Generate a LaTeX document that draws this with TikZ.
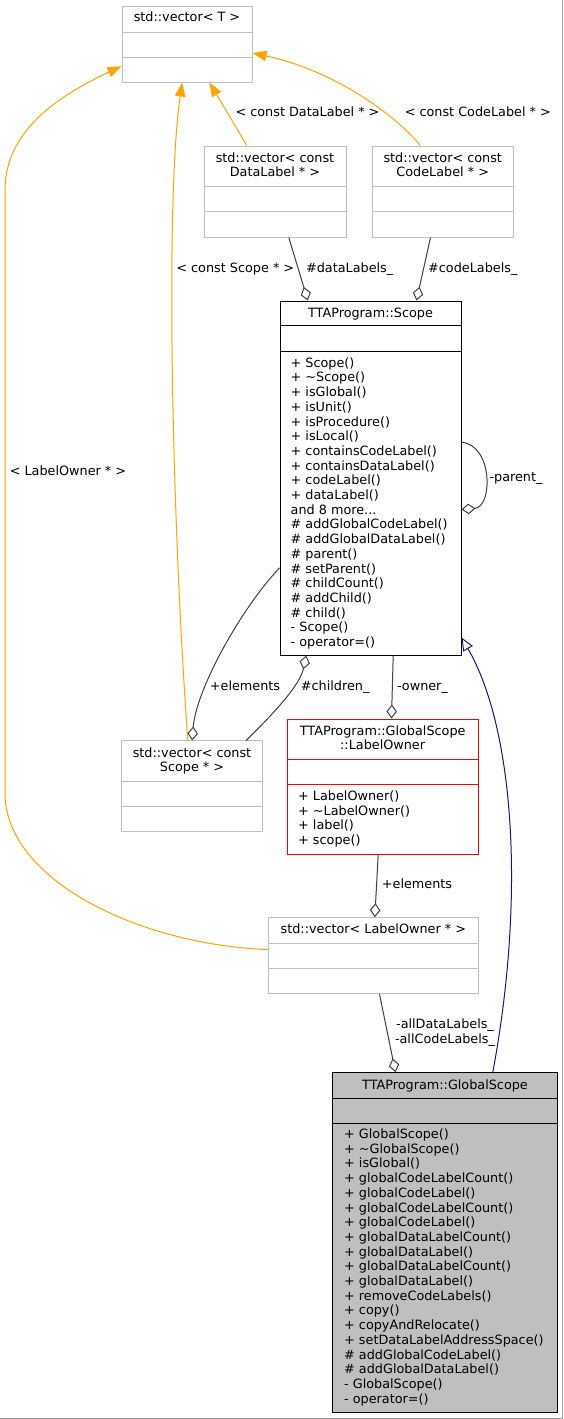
\documentclass[tikz,border=0pt]{standalone}
\usepackage{fontspec}
\setmainfont{DejaVu Sans}
\usetikzlibrary{arrows.meta,calc}

\definecolor{edgegray}{RGB}{191,191,191}
\definecolor{linkgray}{RGB}{64,64,64}
\definecolor{depcolor}{RGB}{255,165,0}
\definecolor{basecolor}{RGB}{25,25,112}
\definecolor{focusfill}{RGB}{191,191,191}

\begin{document}
\begin{tikzpicture}[x=1pt, y=-1pt,
  every node/.style={font=\fontsize{12.8}{14.7}\selectfont, inner sep=0pt},
  vecbox/.style={draw=edgegray, fill=white, line width=1pt},
  clsbox/.style={draw=black, fill=white, line width=1pt},
  lbl/.style={anchor=base},
  dep/.style={draw=depcolor, line width=1pt, -{Triangle[length=14pt,width=10.5pt]}},
  member/.style={draw=linkgray, line width=1pt, -{Diamond[open,length=14pt,width=10.5pt]}},
  inherit/.style={draw=basecolor, line width=1pt, -{Triangle[open,length=13pt,width=11pt]}}]
  \useasboundingbox (0,0) rectangle (563,1419);
  \fill[white] (0,0) rectangle (563,1419);
  \draw[gray!75, line width=1pt] (562.5,0) -- (562.5,1418.5) -- (0,1418.5);

  % std::vector< T >
  \node[vecbox, minimum width=130, minimum height=76] (vecT) at (187,44) {};
  \draw[edgegray, line width=1pt] (122,32) -- ++(130,0) (122,57) -- ++(130,0);
  \node[lbl] (vecT-title) at (187,21.8) {std::vector< T >};

  % std::vector< const DataLabel * >
  \node[vecbox, minimum width=142, minimum height=91] (vecData) at (275,191.5) {};
  \draw[edgegray, line width=1pt] (204,186) -- ++(142,0) (204,211) -- ++(142,0);
  \node[lbl, align=center] (vecData-title) at (275,176.9) {std::vector< const\\DataLabel * >};

  % std::vector< const CodeLabel * >
  \node[vecbox, minimum width=141.5, minimum height=91] (vecCode) at (442.75,191.5) {};
  \draw[edgegray, line width=1pt] (372,186) -- ++(141.5,0) (372,211) -- ++(141.5,0);
  \node[lbl, align=center] (vecCode-title) at (442.75,176.9) {std::vector< const\\CodeLabel * >};

  % TTAProgram::Scope
  \node[clsbox, minimum width=181, minimum height=354] (Scope) at (370.5,478) {};
  \draw[black, line width=1pt] (280,325.7) -- ++(181,0) (280,351) -- ++(181,0);
  \node[lbl] (Scope-title) at (370.5,317.2) {TTAProgram::Scope};
  \node[anchor=base west, align=left] (Scope-ops) at (290.5,646.5) {+ Scope()\\+ \textasciitilde Scope()\\+ isGlobal()\\+ isUnit()\\+ isProcedure()\\+ isLocal()\\+ containsCodeLabel()\\+ containsDataLabel()\\+ codeLabel()\\+ dataLabel()\\and 8 more...\\\# addGlobalCodeLabel()\\\# addGlobalDataLabel()\\\# parent()\\\# setParent()\\\# childCount()\\\# addChild()\\\# child()\\- Scope()\\- operator=()};

  % std::vector< const Scope * >
  \node[vecbox, minimum width=141.4, minimum height=90.7] (vecScope) at (192,786.3) {};
  \draw[edgegray, line width=1pt] (121.3,781) -- ++(141.4,0) (121.3,806.3) -- ++(141.4,0);
  \node[lbl, align=center] (vecScope-title) at (192,771.9) {std::vector< const\\Scope * >};

  % TTAProgram::GlobalScope::LabelOwner
  \node[clsbox, draw=red, minimum width=190.7, minimum height=135] (LabelOwner) at (382.65,786.5) {};
  \draw[red, line width=1pt] (287.3,759) -- ++(190.7,0) (287.3,784.3) -- ++(190.7,0);
  \node[lbl, align=center] (LabelOwner-title) at (382.65,749.9) {TTAProgram::GlobalScope\\::LabelOwner};
  \node[anchor=base west, align=left] (LabelOwner-ops) at (298,844.6) {+ LabelOwner()\\+ \textasciitilde LabelOwner()\\+ label()\\+ scope()};

  % std::vector< LabelOwner * >
  \node[vecbox, minimum width=209.3, minimum height=76] (vecLO) at (373.35,955.7) {};
  \draw[edgegray, line width=1pt] (268.7,943.3) -- ++(209.3,0) (268.7,968.3) -- ++(209.3,0);
  \node[lbl] (vecLO-title) at (373.35,933.8) {std::vector< LabelOwner * >};

  % TTAProgram::GlobalScope
  \node[clsbox, fill=focusfill, minimum width=224.6, minimum height=339.6] (GlobalScope) at (445,1242.5) {};
  \draw[black, line width=1pt] (332.7,1098.3) -- ++(224.6,0) (332.7,1123.3) -- ++(224.6,0);
  \node[lbl] (GlobalScope-title) at (445,1089.5) {TTAProgram::GlobalScope};
  \node[anchor=base west, align=left] (GlobalScope-ops) at (344,1403.1) {+ GlobalScope()\\+ \textasciitilde GlobalScope()\\+ isGlobal()\\+ globalCodeLabelCount()\\+ globalCodeLabel()\\+ globalCodeLabelCount()\\+ globalCodeLabel()\\+ globalDataLabelCount()\\+ globalDataLabel()\\+ globalDataLabelCount()\\+ globalDataLabel()\\+ removeCodeLabels()\\+ copy()\\+ copyAndRelocate()\\+ setDataLabelAddressSpace()\\\# addGlobalCodeLabel()\\\# addGlobalDataLabel()\\- GlobalScope()\\- operator=()};

  % template instances
  \draw[dep] ($(vecData.north west)+(43.3,0)$) -- ($(vecT.south west)+(88,0)$);
  \draw[dep] ($(vecCode.north west)+(48.7,0)$) .. controls (400,120) and (340,72) .. ($(vecT.north east)+(0,47.5)$);
  \draw[dep] ($(vecScope.north west)+(67,0)$) .. controls (172,520) and (165,200) .. ($(vecT.south west)+(60.7,0)$);
  \draw[dep] ($(vecLO.north west)+(0,32.3)$) .. controls (140,945) and (5,880) .. (5,793) -- (5,190) .. controls (5,130) and (60,95) .. ($(vecT.north west)+(0,60.7)$);
  \node[lbl] (lDataT) at (307.5,116.5) {< const DataLabel * >};
  \node[lbl] (lCodeT) at (477.8,116.5) {< const CodeLabel * >};
  \node[lbl] (lScopeT) at (235.3,272.5) {< const Scope * >};
  \node[lbl] (lOwnerT) at (68,475.5) {< LabelOwner * >};

  % usage
  \draw[member] ($(vecData.south west)+(85.3,0)$) -- ($(Scope.north west)+(28.3,0)$);
  \draw[member] ($(vecCode.south west)+(59,0)$) -- ($(Scope.north west)+(137,0)$);
  \draw[member] ($(Scope.north east)+(0,141.7)$) .. controls (493,445) and (493,507) .. ($(Scope.north east)+(0,209)$);
  \draw[member] ($(Scope.north west)+(0,267.3)$) .. controls (240,610) and (196,690) .. ($(vecScope.north west)+(71.4,0)$);
  \draw[member] ($(vecScope.north west)+(125.4,0)$) .. controls (275,712) and (300,685) .. ($(Scope.south west)+(26.7,0)$);
  \draw[member] ($(Scope.south west)+(113.7,0)$) -- ($(LabelOwner.north west)+(104.7,0)$);
  \draw[member] ($(LabelOwner.south west)+(91.4,0)$) -- ($(vecLO.north west)+(106.6,0)$);
  \draw[member] ($(vecLO.south west)+(111.3,0)$) -- ($(GlobalScope.north west)+(63.3,0)$);
  \node[lbl] (lDataLabels) at (349.7,272.5) {\#dataLabels\_};
  \node[lbl] (lCodeLabels) at (472.8,272.5) {\#codeLabels\_};
  \node[lbl] (lParent) at (516,481.2) {-parent\_};
  \node[lbl] (lElements) at (245,690.5) {+elements};
  \node[lbl] (lChildren) at (335.2,690.5) {\#children\_};
  \node[lbl] (lOwner) at (422.5,690.5) {-owner\_};
  \node[lbl] (lOwnerElements) at (417,888.8) {+elements};
  \node[lbl, align=center] (lAllLabels) at (445,1043.5) {-allDataLabels\_\\-allCodeLabels\_};

  % inheritance
  \draw[inherit] ($(GlobalScope.north west)+(160.6,0)$) .. controls (525,900) and (515,730) .. ($(Scope.south east)+(0,-18)$);
\end{tikzpicture}
\end{document}
